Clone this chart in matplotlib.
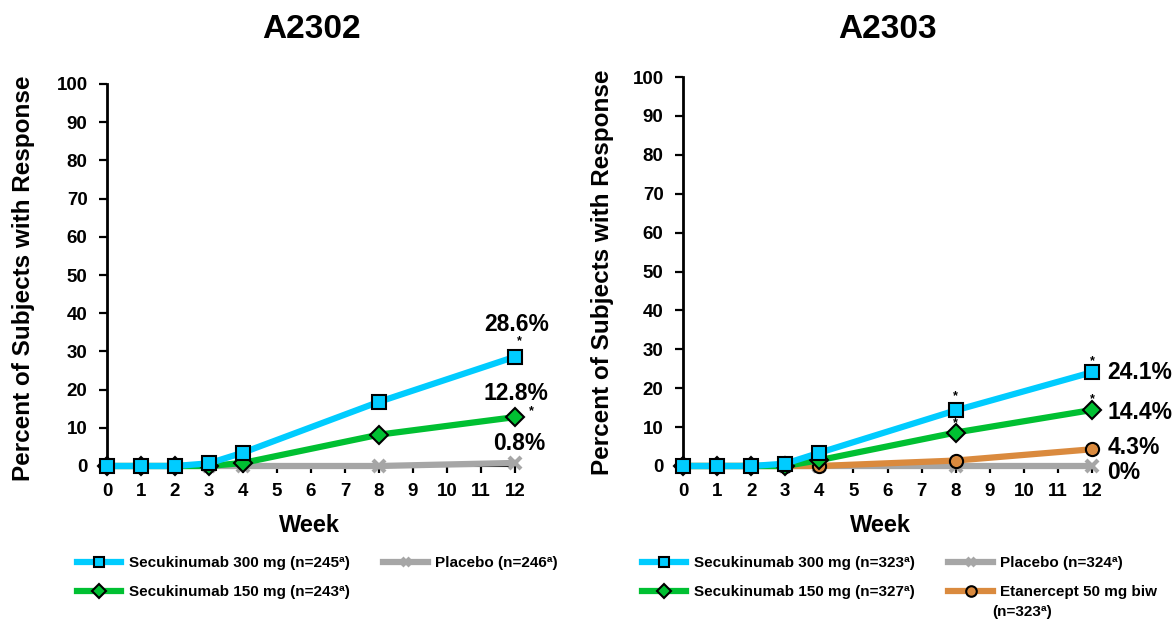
import matplotlib
matplotlib.use("Agg")
import matplotlib.pyplot as plt

plt.rcParams['font.family'] = ['Liberation Sans', 'DejaVu Sans']
plt.rcParams['font.weight'] = 'bold'

weeks = [0, 1, 2, 3, 4, 8, 12]
xticks = list(range(0, 13))
yticks = list(range(0, 101, 10))

# A2302
a2302_sec300 = [0, 0, 0, 0.7, 3.5, 16.8, 28.6]
a2302_sec150 = [0, 0, 0, 0, 0.8, 8.2, 12.8]
a2302_placebo = [0, 0, 0, 0, 0, 0, 0.8]
a2302_labels = ["Secukinumab 300 mg (n=245ª)", "Secukinumab 150 mg (n=243ª)", "Placebo (n=246ª)"]

# A2303
a2303_sec300 = [0, 0, 0, 0.6, 3.4, 14.3, 24.1]
a2303_sec150 = [0, 0, 0, 0, 1.5, 8.6, 14.4]
a2303_placebo = [0, 0, 0, 0, 0, 0, 0]
a2303_etan = [0, 0, 0, 0, 0, 1.4, 4.3]
a2303_labels = ["Secukinumab 300 mg (n=323ª)", "Secukinumab 150 mg (n=327ª)", "Placebo (n=324ª)",
                "Etanercept 50 mg biw"]

C300 = '#00CCFF'
C150 = '#00C032'
CPBO = '#A6A6A6'
CETN = '#DA8A3E'

fig = plt.figure(figsize=(11.76, 6.19), dpi=100)
W, H = 1176, 619

def px_ax(l, r, b, t):
    return [l / W, 1 - b / H, (r - l) / W, (b - t) / H]

axL = fig.add_axes(px_ax(107, 515, 466, 84))
axR = fig.add_axes(px_ax(683, 1092, 466, 77))

LW = 4.5

def style(ax):
    ax.set_xlim(0, 12)
    ax.set_ylim(0, 100)
    ax.set_xticks(xticks)
    ax.set_yticks(yticks)
    ax.tick_params(axis='both', labelsize=13.5, width=1.6, direction='out')
    ax.tick_params(axis='y', length=6, pad=8)
    ax.tick_params(axis='x', length=5, pad=7)
    for s in ['top', 'right']:
        ax.spines[s].set_visible(False)
    ax.spines['left'].set_linewidth(2.0)
    ax.spines['bottom'].set_linewidth(1.5)
    for lab in ax.get_xticklabels() + ax.get_yticklabels():
        lab.set_fontweight('bold')

def plot_series(ax, y, color, marker, ms, label, z, mec='black', mew=1.5, mfc=None):
    return ax.plot(weeks, y, color=color, lw=LW, marker=marker, ms=ms,
                   mfc=mfc if mfc else color, mec=mec, mew=mew, label=label,
                   zorder=z, clip_on=False)[0]

# Left panel
style(axL)
pL = plot_series(axL, a2302_placebo, CPBO, 'x', 8, a2302_labels[2], 3, mec=CPBO, mew=3)
gL = plot_series(axL, a2302_sec150, C150, 'D', 9, a2302_labels[1], 4)
cL = plot_series(axL, a2302_sec300, C300, 's', 9.5, a2302_labels[0], 5)

# Right panel
style(axR)
pR = plot_series(axR, a2303_placebo, CPBO, 'x', 8, a2303_labels[2], 3, mec=CPBO, mew=3)
oR = plot_series(axR, a2303_etan, CETN, 'o', 9.5, a2303_labels[3], 3.5)
gR = plot_series(axR, a2303_sec150, C150, 'D', 9, a2303_labels[1], 4)
cR = plot_series(axR, a2303_sec300, C300, 's', 9.5, a2303_labels[0], 5)

def ann(ax, x, y, txt, dx, dy, size=16.5, ha='center'):
    ax.annotate(txt, (x, y), xytext=(dx, dy), textcoords='offset points',
                ha=ha, va='center', fontsize=size, fontweight='bold',
                annotation_clip=False, zorder=10)

# Left annotations
ann(axL, 12, a2302_sec300[-1], "28.6%", 1, 23)
ann(axL, 12, a2302_sec300[-1], "*", 3, 11, size=9)
ann(axL, 12, a2302_sec150[-1], "12.8%", 1, 17)
ann(axL, 12, a2302_sec150[-1], "*", 12, 4, size=9)
ann(axL, 12, a2302_placebo[-1], "0.8%", 3, 14)

# Right annotations
ann(axR, 12, a2303_sec300[-1], "24.1%", 11, 0, ha='left')
ann(axR, 12, a2303_sec300[-1], "*", 0, 8, size=9)
ann(axR, 12, a2303_sec150[-1], "14.4%", 11, -2, ha='left')
ann(axR, 12, a2303_sec150[-1], "*", 0, 8, size=9)
ann(axR, 12, a2303_etan[-1], "4.3%", 11, 1, ha='left')
ann(axR, 12, a2303_placebo[-1], "0%", 11, -5, ha='left')
ann(axR, 8, a2303_sec300[5], "*", 0, 10, size=9)
ann(axR, 8, a2303_sec150[5], "*", 0, 7, size=9)

# Titles and axis labels
fig.text(311 / W, 1 - 29 / H, "A2302", ha='center', va='center', fontsize=24, fontweight='bold')
fig.text(887 / W, 1 - 29 / H, "A2303", ha='center', va='center', fontsize=24, fontweight='bold')
fig.text(309 / W, 1 - 526 / H, "Week", ha='center', va='center', fontsize=17, fontweight='bold')
fig.text(880 / W, 1 - 526 / H, "Week", ha='center', va='center', fontsize=17, fontweight='bold')
fig.text(24 / W, 1 - 278 / H, "Percent of Subjects with Response", rotation=90,
         ha='center', va='center', fontsize=17.5, fontweight='bold')
fig.text(603 / W, 1 - 272 / H, "Percent of Subjects with Response", rotation=90,
         ha='center', va='center', fontsize=17.5, fontweight='bold')

leg_kw = dict(loc='upper left', ncol=2, frameon=False, handlelength=2.9,
              handletextpad=0.5, columnspacing=2.2, labelspacing=1.0, borderpad=0,
              borderaxespad=0, markerscale=0.8, prop={'weight': 'bold', 'size': 11})
fig.legend([cL, gL, pL], [a2302_labels[0], a2302_labels[1], a2302_labels[2]],
           bbox_to_anchor=(77 / W, 1 - 556 / H), **leg_kw)
fig.legend([cR, gR, pR, oR], [a2303_labels[0], a2303_labels[1], a2303_labels[2], a2303_labels[3]],
           bbox_to_anchor=(642 / W, 1 - 556 / H), **leg_kw)
fig.text(992 / W, 1 - 612 / H, "(n=323ª)", ha='left', va='center', fontsize=11, fontweight='bold')

fig.savefig("out.png", dpi=100)
